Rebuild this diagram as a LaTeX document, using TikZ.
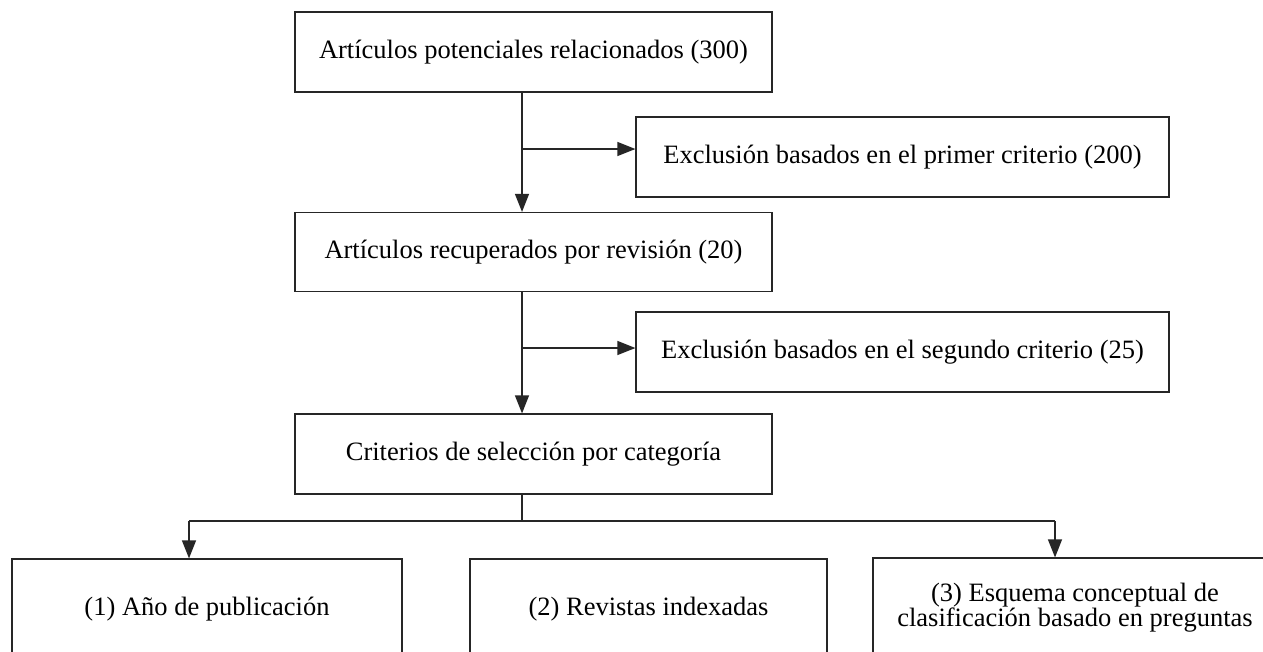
\documentclass[tikz,border=0pt]{standalone}
\usepackage{fontspec}
\setmainfont{Liberation Serif}
\usetikzlibrary{arrows.meta}
\tikzset{
  box/.style={draw=black!85, line width=1.2pt, rectangle, inner sep=0pt, align=center,
    font=\fontsize{26.5}{25}\selectfont},
  link/.style={draw=black!85, line width=1.2pt},
  arrowlink/.style={link, -{Triangle[length=18pt,width=14pt]}}
}
\begin{document}
\begin{tikzpicture}[x=1pt,y=-1pt]
\useasboundingbox (0,0) rectangle (1263,651);
\clip (0,0) rectangle (1263,651);
\fill[white] (0,0) rectangle (1263,651);
% boxes
\node[box, minimum width=477pt, minimum height=80pt] (A) at (533.5,52) {Artículos potenciales relacionados (300)};
\node[box, minimum width=533pt, minimum height=80pt] (E1) at (902.5,157) {Exclusión basados en el primer criterio (200)};
\node[box, minimum width=477pt, minimum height=79pt] (B) at (533.5,252) {Artículos recuperados por revisión (20)};
\node[box, minimum width=533pt, minimum height=80pt] (E2) at (902.5,352) {Exclusión basados en el segundo criterio (25)};
\node[box, minimum width=477pt, minimum height=80pt] (C) at (533.5,454) {Criterios de selección por categoría};
\node[box, minimum width=390pt, minimum height=100pt] (B1) at (207,609) {(1) Año de publicación};
\node[box, minimum width=357pt, minimum height=100pt] (B2) at (648.5,609) {(2) Revistas indexadas};
\node[box, minimum width=404pt, minimum height=100pt] (B3) at (1075,608) {(3) Esquema conceptual de\\clasificación basado en preguntas};
% junction coordinates
\coordinate (t1) at (522,149);
\coordinate (t2) at (522,348);
\coordinate (t3) at (522,521);
\coordinate (h1) at (189,521);
\coordinate (h3) at (1055,521);
% connectors
\draw[arrowlink] (A.south -| t1) -- (B.north -| t1);
\draw[arrowlink] (t1) -- (E1.west |- t1);
\draw[arrowlink] (B.south -| t2) -- (C.north -| t2);
\draw[arrowlink] (t2) -- (E2.west |- t2);
\draw[link] (C.south -| t3) -- (t3);
\draw[link] (h1) -- (h3);
\draw[arrowlink] (h1) -- (B1.north -| h1);
\draw[arrowlink] (h3) -- (B3.north -| h3);
\end{tikzpicture}
\end{document}
